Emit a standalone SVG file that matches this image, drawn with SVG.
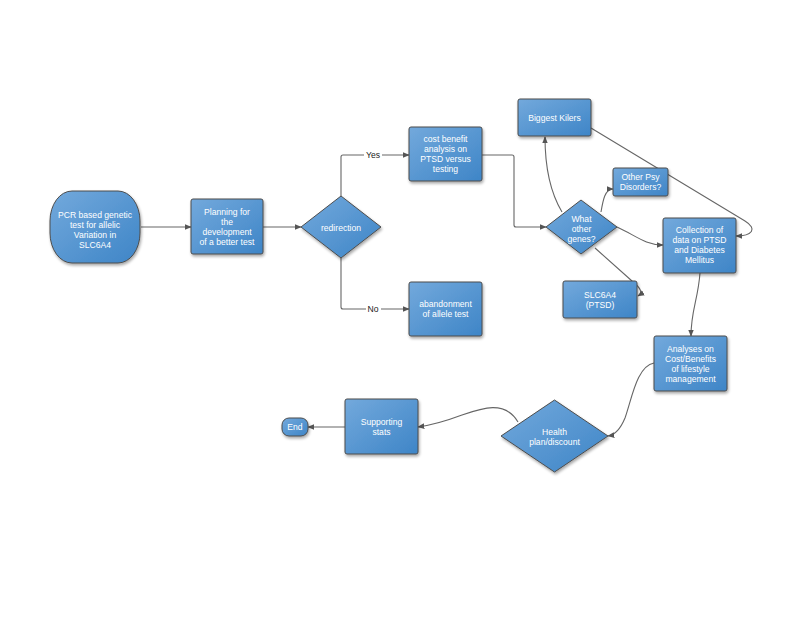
<svg xmlns="http://www.w3.org/2000/svg" width="800" height="618" viewBox="0 0 800 618">
<defs>
<linearGradient id="g" x1="0" y1="0" x2="1" y2="1">
<stop offset="0" stop-color="#73a9dc"/>
<stop offset="1" stop-color="#3e85c7"/>
</linearGradient>
<filter id="sh" x="-20%" y="-20%" width="150%" height="150%">
<feGaussianBlur in="SourceAlpha" stdDeviation="1.5"/>
<feOffset dx="1" dy="2" result="b"/>
<feComponentTransfer><feFuncA type="linear" slope="0.35"/></feComponentTransfer>
<feMerge><feMergeNode/><feMergeNode in="SourceGraphic"/></feMerge>
</filter>
<marker id="ar" viewBox="0 0 10 10" refX="9" refY="5" markerWidth="7" markerHeight="7" orient="auto" markerUnits="userSpaceOnUse">
<path d="M0,1 L10,5 L0,9 z" fill="#555"/>
</marker>
</defs>
<style>
.n{fill:url(#g);stroke:#4d4d4d;stroke-width:1;filter:url(#sh)}
.t{font-family:"Liberation Sans",Arial,sans-serif;font-size:8.6px;fill:#fff;text-anchor:middle}
.c{fill:none;stroke:#666;stroke-width:1.1;marker-end:url(#ar)}
.l{font-family:"Liberation Sans",Arial,sans-serif;font-size:8.6px;fill:#222;text-anchor:middle}
</style>
<rect width="800" height="618" fill="#fff"/>
<g id="connectors">
<path class="c" d="M141,227 L191,227"/>
<path class="c" d="M263,227 L301,227"/>
<path class="c" d="M341,196 L341,157 Q341,155 343,155 L409,155"/>
<path class="c" d="M341,258 L341,307 Q341,309 343,309 L409,309"/>
<path class="c" d="M482,155 L512,155 Q514,155 514,157 L514,225 Q514,227 516,227 L546,227"/>
<path class="c" d="M562,212 C550,192 545,168 545,137"/>
<path class="c" d="M601,212 C603,200 605,189 613,189"/>
<path class="c" d="M617,227 C635,235 645,245 663,245"/>
<path class="c" d="M595,248 L632,281 C641,288 643,293 638,296"/>
<path class="c" d="M591,128 L745,221 C758,229 752,236 736,236"/>
<path class="c" d="M700,273 C698,300 691,310 691,336"/>
<path class="c" d="M654,363 C637,366 632,398 625,418 C620,430 615,435 608,436"/>
<path class="c" d="M518,422 C505,400 482,408 462,415 C446,421 432,425 418,427"/>
<path class="c" d="M345,427 L308,427"/>
<rect x="364" y="150" width="18" height="10" fill="#fff"/>
<text class="l" x="373" y="158">Yes</text>
<rect x="366" y="304" width="15" height="10" fill="#fff"/>
<text class="l" x="373" y="312">No</text>
</g>
<g id="pcr">
<rect class="n" x="50" y="191" width="90" height="72" rx="22" ry="30"/>
<text class="t" x="95" y="218">PCR based genetic</text>
<text class="t" x="95" y="228">test for allelic</text>
<text class="t" x="95" y="238">Variation in</text>
<text class="t" x="95" y="248">SLC6A4</text>
</g>
<g id="planning">
<rect class="n" x="191" y="199" width="72" height="55" rx="2"/>
<text class="t" x="227" y="215">Planning for</text>
<text class="t" x="227" y="225">the</text>
<text class="t" x="227" y="235">development</text>
<text class="t" x="227" y="245">of a better test</text>
</g>
<g id="redirection">
<path class="n" d="M341,196 L381,227 L341,258 L301,227 Z" stroke-linejoin="round"/>
<text class="t" x="341" y="231">redirection</text>
</g>
<g id="costbenefit">
<rect class="n" x="409" y="127" width="73" height="54" rx="2"/>
<text class="t" x="445.5" y="142">cost benefit</text>
<text class="t" x="445.5" y="152">analysis on</text>
<text class="t" x="445.5" y="162">PTSD versus</text>
<text class="t" x="445.5" y="172">testing</text>
</g>
<g id="abandonment">
<rect class="n" x="409" y="282" width="73" height="54" rx="2"/>
<text class="t" x="445.5" y="307">abandonment</text>
<text class="t" x="445.5" y="317">of allele test</text>
</g>
<g id="biggest">
<rect class="n" x="518" y="99" width="73" height="37" rx="2"/>
<text class="t" x="554.5" y="121">Biggest Kilers</text>
</g>
<g id="otherpsy">
<rect class="n" x="613" y="168" width="55" height="28" rx="2"/>
<text class="t" x="640.5" y="180">Other Psy</text>
<text class="t" x="640.5" y="190">Disorders?</text>
</g>
<g id="whatother">
<path class="n" d="M581,200 L617,227 L581,254 L546,227 Z" stroke-linejoin="round"/>
<text class="t" x="581.5" y="222">What</text>
<text class="t" x="581.5" y="232">other</text>
<text class="t" x="581.5" y="242">genes?</text>
</g>
<g id="collection">
<rect class="n" x="663" y="218" width="73" height="55" rx="2"/>
<text class="t" x="699.5" y="233">Collection of</text>
<text class="t" x="699.5" y="243">data on PTSD</text>
<text class="t" x="699.5" y="253">and Diabetes</text>
<text class="t" x="699.5" y="263">Mellitus</text>
</g>
<g id="slc6a4">
<rect class="n" x="563" y="281" width="74" height="37" rx="2"/>
<text class="t" x="600" y="298">SLC6A4</text>
<text class="t" x="600" y="308">(PTSD)</text>
</g>
<g id="analyses">
<rect class="n" x="654" y="336" width="73" height="55" rx="2"/>
<text class="t" x="690.5" y="352">Analyses on</text>
<text class="t" x="690.5" y="362">Cost/Benefits</text>
<text class="t" x="690.5" y="372">of lifestyle</text>
<text class="t" x="690.5" y="382">management</text>
</g>
<g id="health">
<path class="n" d="M554.5,400 L608,436 L554.5,472 L501,436 Z" stroke-linejoin="round"/>
<text class="t" x="554.5" y="435">Health</text>
<text class="t" x="554.5" y="445">plan/discount</text>
</g>
<g id="supporting">
<rect class="n" x="345" y="399" width="73" height="55" rx="2"/>
<text class="t" x="381.5" y="425">Supporting</text>
<text class="t" x="381.5" y="435">stats</text>
</g>
<g id="end">
<rect class="n" x="282" y="418" width="26" height="18" rx="7"/>
<text class="t" x="295" y="430">End</text>
</g>
</svg>
